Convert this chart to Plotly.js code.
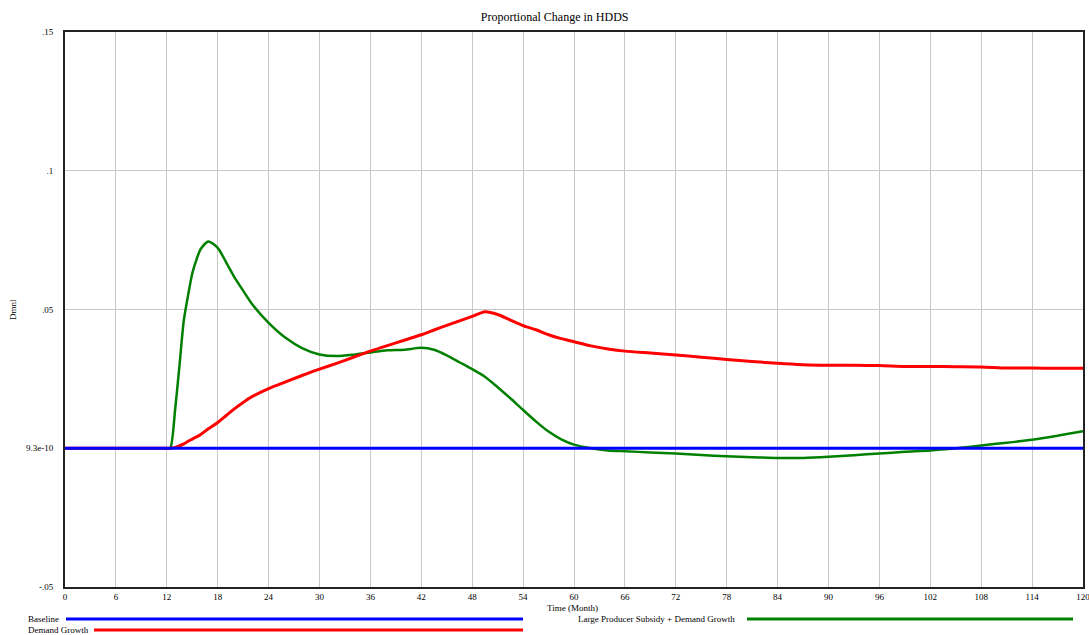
<!DOCTYPE html>
<html>
<head>
<meta charset="utf-8">
<script src="https://cdn.plot.ly/plotly-3.0.1.min.js"></script>
<style>html,body{margin:0;padding:0;background:#fff;}#chart{width:1089px;height:635px;}</style>
</head>
<body>
<div id="chart"></div>
<script>
const months = [0, 12, 12.4, 13, 13.5, 14, 14.5, 15, 15.5, 16, 16.9, 18, 19, 20, 21, 22, 24, 26, 28, 30, 32, 34, 36, 38, 40, 42, 43.5, 45, 46.5, 48, 49.5, 51, 52.5, 54, 55.5, 57, 58.5, 60, 62, 64, 66, 69, 72, 75, 78, 81, 84, 87, 90, 93, 96, 99, 102, 105, 108, 111, 114, 117, 120];

const baseline = months.map(() => 9.3e-10);

const demandGrowth = [0, 0, 0, 0.0003, 0.0009, 0.0016, 0.0025, 0.0033, 0.0041, 0.005, 0.007, 0.0093, 0.0118, 0.0143, 0.0165, 0.0185, 0.0215, 0.0239, 0.0263, 0.0285, 0.0306, 0.0328, 0.035, 0.037, 0.0389, 0.0409, 0.0426, 0.0443, 0.0459, 0.0475, 0.0492, 0.0482, 0.0462, 0.0442, 0.0427, 0.0409, 0.0395, 0.0384, 0.0369, 0.0358, 0.035, 0.0343, 0.0336, 0.0328, 0.032, 0.0313, 0.0306, 0.0301, 0.0299, 0.0299, 0.0298, 0.0295, 0.0295, 0.0294, 0.0293, 0.0289, 0.0289, 0.0288, 0.0288];

const subsidyDemand = [0, 0, 0, 0.0145, 0.030, 0.046, 0.055, 0.063, 0.068, 0.0718, 0.0745, 0.0722, 0.067, 0.0615, 0.0568, 0.0522, 0.0452, 0.0398, 0.036, 0.0338, 0.0332, 0.0337, 0.0345, 0.0353, 0.0355, 0.0362, 0.0355, 0.0335, 0.031, 0.0285, 0.0258, 0.022, 0.018, 0.0138, 0.0097, 0.006, 0.0032, 0.0013, 0.0, -0.0008, -0.0011, -0.0015, -0.0019, -0.0024, -0.0029, -0.0032, -0.0035, -0.0035, -0.0031, -0.0025, -0.0019, -0.0013, -0.0008, 0.0, 0.001, 0.002, 0.0031, 0.0045, 0.0061];

const xTicks = [0, 6, 12, 18, 24, 30, 36, 42, 48, 54, 60, 66, 72, 78, 84, 90, 96, 102, 108, 114, 120];
const yTickVals = [-0.05, 0, 0.05, 0.1, 0.15];
const yTickText = ["-.05", "9.3e-10", ".05", ".1", ".15"];

const seriesNames = ["Baseline", "Demand Growth", "Large Producer Subsidy + Demand Growth"];
const seriesColors = ["#0000ff", "#ff0000", "#008000"];

const fontFam = "Liberation Serif, Times New Roman, serif";

const traces = [
  {x: months, y: subsidyDemand, name: seriesNames[2], mode: "lines", line: {color: seriesColors[2], width: 2.5, shape: "spline", smoothing: 0.7}},
  {x: months, y: demandGrowth, name: seriesNames[1], mode: "lines", line: {color: seriesColors[1], width: 3, shape: "spline", smoothing: 0.7}},
  {x: months, y: baseline, name: seriesNames[0], mode: "lines", line: {color: seriesColors[0], width: 3}}
];

function px2x(p){ return (p - 65) / 1018; }
function px2y(p){ return (587 - p) / 555; }

const layout = {
  width: 1089, height: 635,
  margin: {l: 65, r: 6, t: 32, b: 48},
  paper_bgcolor: "#fff", plot_bgcolor: "#fff",
  showlegend: false,
  font: {family: fontFam, size: 9, color: "#000"},
  title: {text: "Proportional Change in HDDS", font: {family: fontFam, size: 12, color: "#000"},
          x: 0.481, xref: "paper", xanchor: "center", y: 1 - 17/635, yref: "container", yanchor: "middle"},
  xaxis: {range: [0, 120], tickvals: xTicks, ticktext: xTicks.map(String), showgrid: true,
          gridcolor: "#c8c8c8", gridwidth: 1, zeroline: false, showline: true, linecolor: "#222",
          linewidth: 2, mirror: true, ticks: "", ticklabelstandoff: 0, ticklabeloverflow: "allow",
          tickfont: {family: fontFam, size: 9}},
  yaxis: {range: [-0.05, 0.15], tickvals: yTickVals, ticktext: yTickText, showgrid: true,
          gridcolor: "#c8c8c8", gridwidth: 1, zeroline: false, showline: true, linecolor: "#222",
          linewidth: 2, mirror: true, ticks: "", ticklabelstandoff: 8, tickfont: {family: fontFam, size: 9}},
  annotations: [
    {text: "Dmnl", xref: "paper", yref: "paper", x: px2x(13), y: px2y(310), textangle: -90,
     showarrow: false, xanchor: "center", yanchor: "middle", font: {family: fontFam, size: 9}},
    {text: "Time (Month)", xref: "paper", yref: "paper", x: px2x(572), y: px2y(607.5),
     showarrow: false, xanchor: "center", yanchor: "middle", font: {family: fontFam, size: 9}},
    {text: seriesNames[0], xref: "paper", yref: "paper", x: px2x(26), y: px2y(619),
     showarrow: false, xanchor: "left", yanchor: "middle", font: {family: fontFam, size: 9}},
    {text: seriesNames[1], xref: "paper", yref: "paper", x: px2x(26), y: px2y(630),
     showarrow: false, xanchor: "left", yanchor: "middle", font: {family: fontFam, size: 9}},
    {text: seriesNames[2], xref: "paper", yref: "paper", x: px2x(576), y: px2y(619),
     showarrow: false, xanchor: "left", yanchor: "middle", font: {family: fontFam, size: 9}}
  ],
  shapes: [
    {type: "line", xref: "paper", yref: "paper", x0: px2x(66), x1: px2x(523), y0: px2y(619), y1: px2y(619),
     line: {color: seriesColors[0], width: 3}},
    {type: "line", xref: "paper", yref: "paper", x0: px2x(94), x1: px2x(523), y0: px2y(630), y1: px2y(630),
     line: {color: seriesColors[1], width: 3}},
    {type: "line", xref: "paper", yref: "paper", x0: px2x(747), x1: px2x(1073), y0: px2y(619), y1: px2y(619),
     line: {color: seriesColors[2], width: 3}}
  ]
};

Plotly.newPlot("chart", traces, layout, {displayModeBar: false, staticPlot: true});
</script>
</body>
</html>
